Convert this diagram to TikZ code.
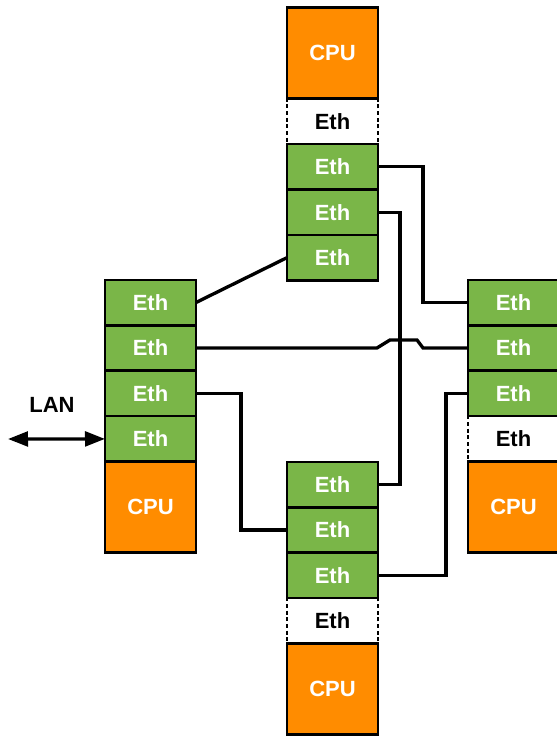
\documentclass[tikz,border=0pt]{standalone}
\usepackage{fontspec}
\setsansfont{Liberation Sans}
\usetikzlibrary{positioning,arrows.meta}
\definecolor{ethgreen}{RGB}{122,182,72}
\definecolor{cpuorange}{RGB}{255,140,0}
\tikzset{
  cell/.style={draw, line width=1.9pt, minimum width=68.25pt, minimum height=34.1pt,
    inner sep=0pt, outer sep=0pt, font=\sffamily\bfseries\fontsize{16.5}{16.5}\selectfont},
  eth/.style={cell, fill=ethgreen, text=white},
  cpu/.style={cell, fill=cpuorange, text=white, minimum height=68.25pt},
  spare/.style={cell, dash pattern=on 3pt off 2pt, text=black},
  wire/.style={line width=2.5pt},
}
\begin{document}
\begin{tikzpicture}[x=0.75pt,y=-0.75pt]
    \useasboundingbox (0,0) rectangle (557,736);
    % left board
    \node[eth] (L1) at (150.5,302.5) {Eth};
    \node[eth, below=0pt of L1] (L2) {Eth};
    \node[eth, below=0pt of L2] (L3) {Eth};
    \node[eth, below=0pt of L3] (L4) {Eth};
    \node[cpu, below=0pt of L4] (Lcpu) {CPU};
    % top board
    \node[cpu] (Tcpu) at (332.5,53) {CPU};
    \node[spare, below=0pt of Tcpu] (Tx) {Eth};
    \node[eth, below=0pt of Tx] (T1) {Eth};
    \node[eth, below=0pt of T1] (T2) {Eth};
    \node[eth, below=0pt of T2] (T3) {Eth};
    % right board
    \node[eth] (R1) at (513.5,302.5) {Eth};
    \node[eth, below=0pt of R1] (R2) {Eth};
    \node[eth, below=0pt of R2] (R3) {Eth};
    \node[spare, below=0pt of R3] (Rx) {Eth};
    \node[cpu, below=0pt of Rx] (Rcpu) {CPU};
    % bottom board
    \node[eth] (B1) at (332.5,484.5) {Eth};
    \node[eth, below=0pt of B1] (B2) {Eth};
    \node[eth, below=0pt of B2] (B3) {Eth};
    \node[spare, below=0pt of B3] (Bx) {Eth};
    \node[cpu, below=0pt of Bx] (Bcpu) {CPU};
    % links
    \draw[wire] (L1.east) -- (T3.west);
    \draw[wire] (L2.east) -- ++(181,0) -- ++(13,-8) -- ++(27,0) -- ++(6,8) -- (R2.west);
    \draw[wire] (L3.east) -- ++(45,0) |- (B2.west);
    \draw[wire] (T1.east) -- ++(45,0) |- (R1.west);
    \draw[wire] (T2.east) -- ++(22,0) |- (B1.east);
    \draw[wire] (B3.east) -- ++(68,0) |- (R3.west);
    % LAN
    \coordinate (lan) at (8,439);
    \draw[wire, {Triangle[length=15pt,width=11pt]}-{Triangle[length=15pt,width=11pt]}] (lan) -- (L4.west);
    \node[font=\sffamily\bfseries\fontsize{16.5}{16.5}\selectfont] (lanlabel) at (52,405) {LAN};
\end{tikzpicture}
\end{document}
